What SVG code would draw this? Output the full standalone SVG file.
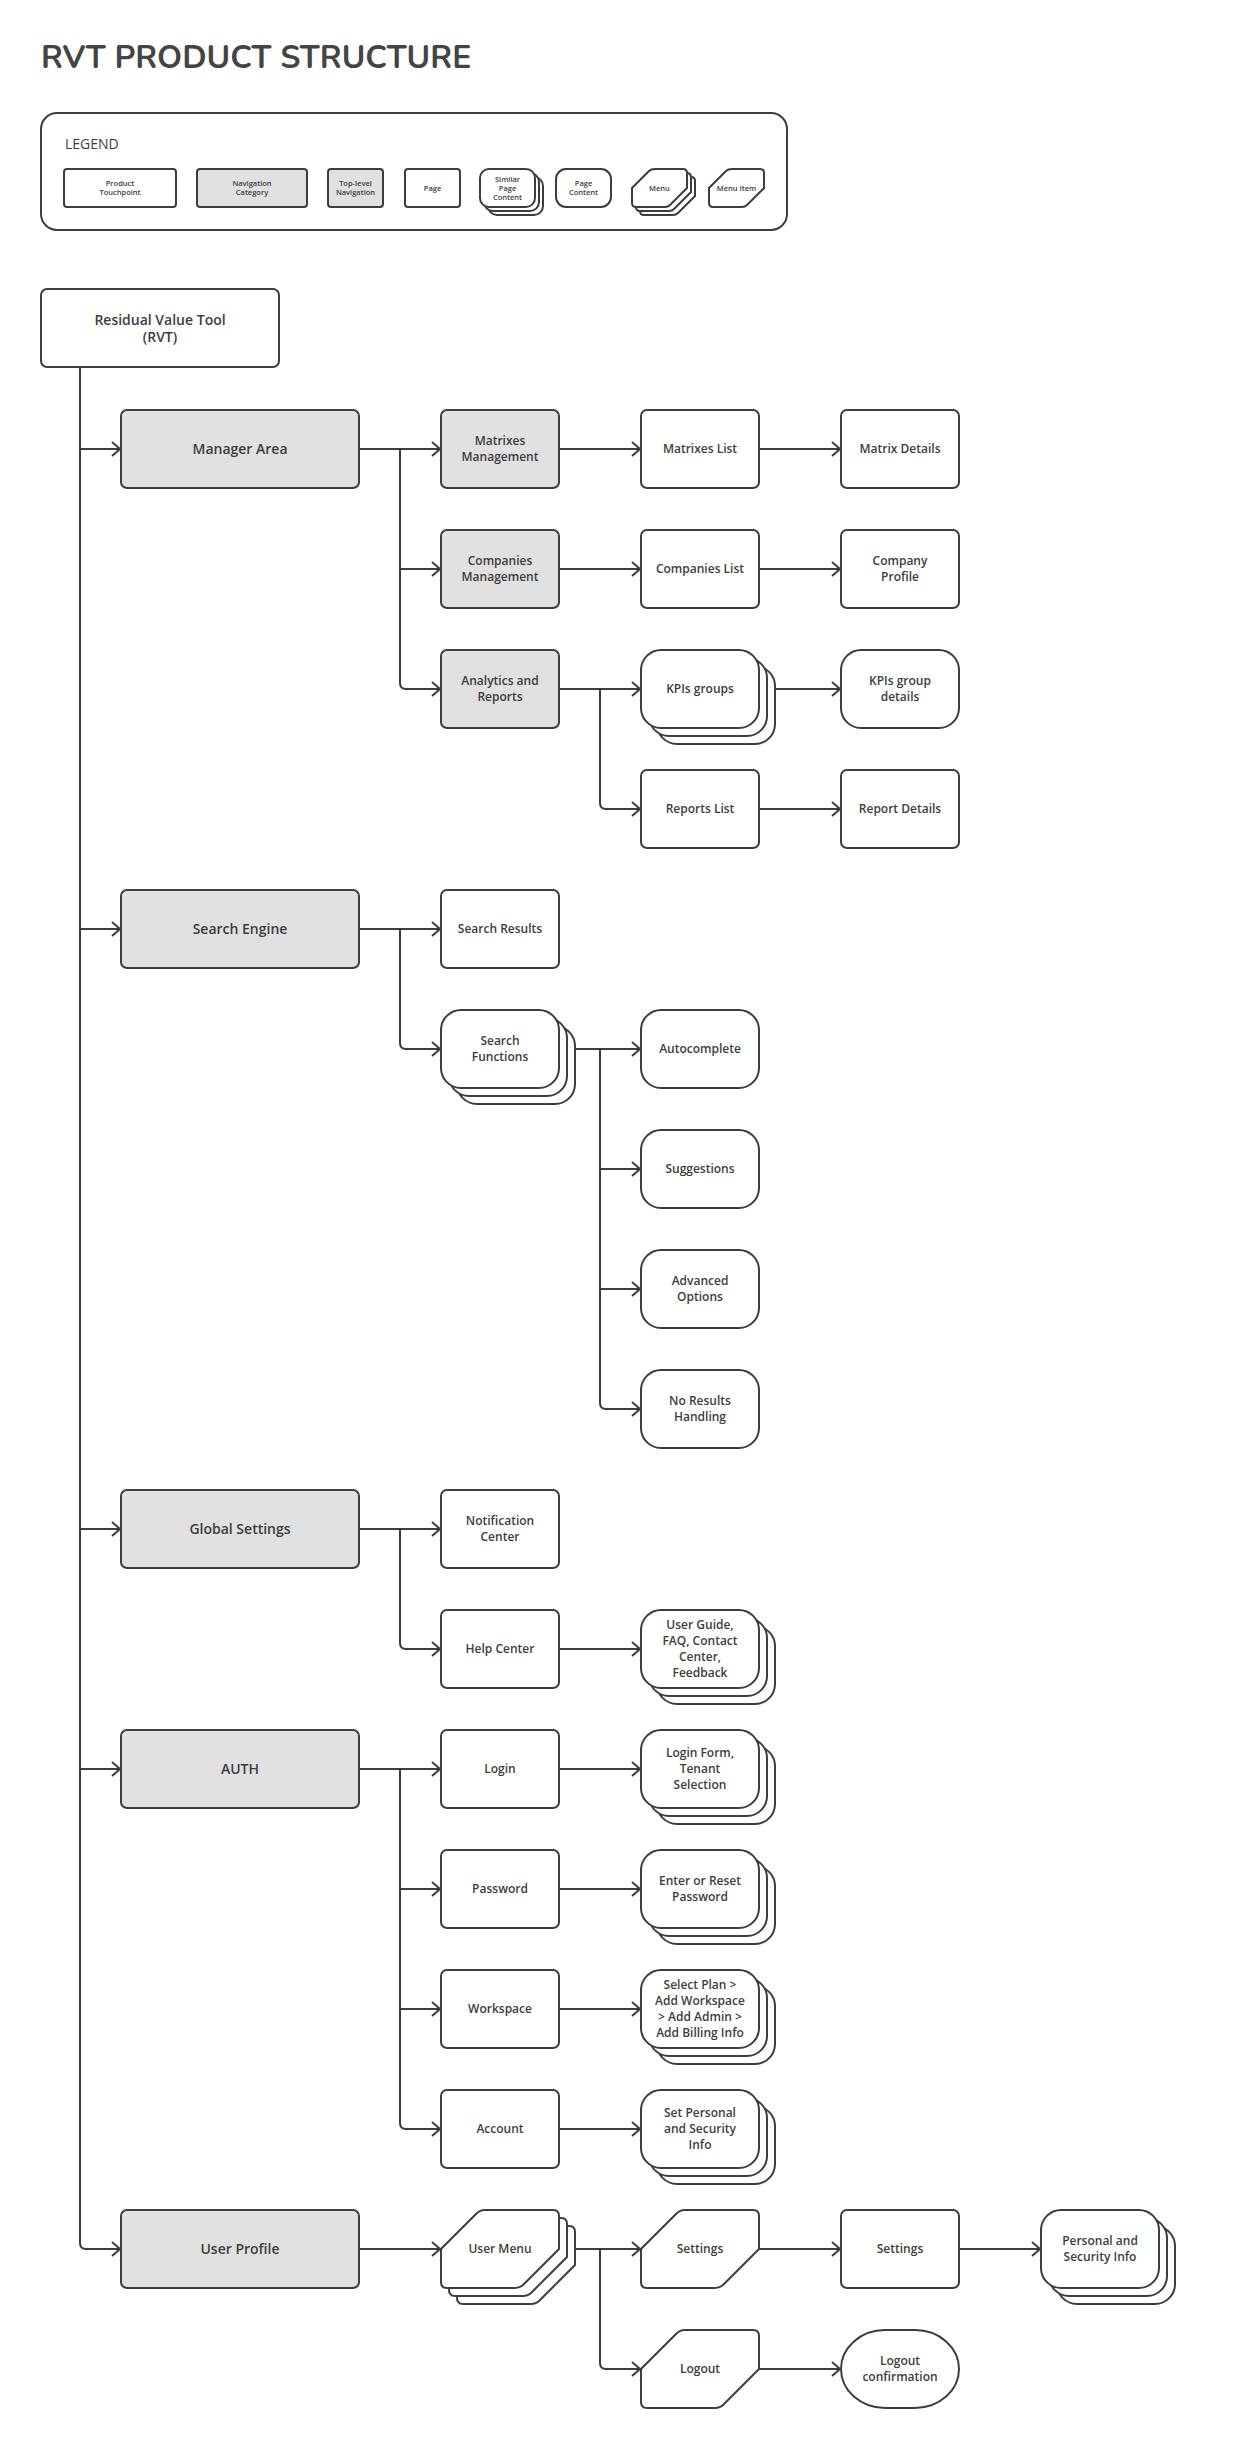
<svg xmlns="http://www.w3.org/2000/svg" xmlns:xlink="http://www.w3.org/1999/xlink" width="1240" height="2457" viewBox="0 0 1240 2457">
<style>
.b{fill:#fff;stroke:#3d3d3d;stroke-width:2}
.g{fill:#e0e0e0;stroke:#3d3d3d;stroke-width:2}
.t{font-family:"Open Sans","Noto Sans","Liberation Sans",sans-serif;font-size:12px;font-weight:600;fill:#3d3d3d;text-anchor:middle}
.t14{font-size:14px}
.tl{font-family:"Open Sans","Noto Sans","Liberation Sans",sans-serif;font-size:7.5px;font-weight:600;fill:#3d3d3d;text-anchor:middle}
.c{fill:none;stroke:#3d3d3d;stroke-width:2}
</style>
<defs>
<marker id="a" markerUnits="userSpaceOnUse" markerWidth="20" markerHeight="20" refX="10" refY="10" orient="auto" viewBox="0 0 20 20"><path d="M2,3 L10,10 L2,17" fill="none" stroke="#3d3d3d" stroke-width="2"/></marker>
<path id="hex" d="M44,0 H112 Q118,0 118,6 V39 L82.5,74.5 Q79,78 74,78 H6 Q0,78 0,72 V39 L35.5,3.5 Q39,0 44,0 Z"/>
<path id="hexs" d="M23,0 H51 Q55,0 55,4 V19 L38,36 Q36,38 33,38 H4 Q0,38 0,34 V19 L17,2 Q19,0 23,0 Z"/>
</defs>
<rect width="1240" height="2457" fill="#fff"/>
<text x="41" y="68" style="font-family:'Nunito','Noto Sans','Liberation Sans',sans-serif;font-size:32px;font-weight:700;fill:#444">RVT PRODUCT STRUCTURE</text>

<g id="legend">
<rect x="41" y="113" width="746" height="117" rx="16" class="b"/>
<text x="65" y="149" style="font-family:'Open Sans','Noto Sans','Liberation Sans',sans-serif;font-size:14px;font-weight:500;fill:#3d3d3d">LEGEND</text>
<rect x="64" y="169" width="112" height="38" rx="3" class="b"/>
<text class="tl"><tspan x="120" y="186">Product</tspan><tspan x="120" y="195">Touchpoint</tspan></text>
<rect x="197" y="169" width="110" height="38" rx="3" class="g"/>
<text class="tl"><tspan x="252" y="186">Navigation</tspan><tspan x="252" y="195">Category</tspan></text>
<rect x="328" y="169" width="55" height="38" rx="3" class="g"/>
<text class="tl"><tspan x="355.5" y="186">Top-level</tspan><tspan x="355.5" y="195">Navigation</tspan></text>
<rect x="405" y="169" width="55" height="38" rx="3" class="b"/>
<text class="tl" x="432.5" y="190.5">Page</text>
<rect x="488" y="177" width="55" height="38" rx="9" class="b"/>
<rect x="484" y="173" width="55" height="38" rx="9" class="b"/>
<rect x="480" y="169" width="55" height="38" rx="9" class="b"/>
<text class="tl"><tspan x="507.5" y="181.5">Similar</tspan><tspan x="507.5" y="190.5">Page</tspan><tspan x="507.5" y="199.5">Content</tspan></text>
<rect x="556" y="169" width="55" height="38" rx="10" class="b"/>
<text class="tl"><tspan x="583.5" y="186">Page</tspan><tspan x="583.5" y="195">Content</tspan></text>
<use xlink:href="#hexs" x="640" y="177" class="b"/>
<use xlink:href="#hexs" x="636" y="173" class="b"/>
<use xlink:href="#hexs" x="632" y="169" class="b"/>
<text class="tl" x="659.5" y="190.5">Menu</text>
<use xlink:href="#hexs" x="709" y="169" class="b"/>
<text class="tl" x="736.5" y="190.5">Menu Item</text>
</g>

<g id="connectors">
<path class="c" marker-end="url(#a)" d="M80,367 V2243 Q80,2249 86,2249 H120"/>
<path class="c" marker-end="url(#a)" d="M80,449 H120"/>
<path class="c" marker-end="url(#a)" d="M80,929 H120"/>
<path class="c" marker-end="url(#a)" d="M80,1529 H120"/>
<path class="c" marker-end="url(#a)" d="M80,1769 H120"/>

<path class="c" marker-end="url(#a)" d="M359,449 H440"/>
<path class="c" marker-end="url(#a)" d="M400,449 V683 Q400,689 406,689 H440"/>
<path class="c" marker-end="url(#a)" d="M400,569 H440"/>
<path class="c" marker-end="url(#a)" d="M559,449 H640"/>
<path class="c" marker-end="url(#a)" d="M559,569 H640"/>
<path class="c" marker-end="url(#a)" d="M559,689 H640"/>
<path class="c" marker-end="url(#a)" d="M600,689 V803 Q600,809 606,809 H640"/>
<path class="c" marker-end="url(#a)" d="M759,449 H840"/>
<path class="c" marker-end="url(#a)" d="M759,569 H840"/>
<path class="c" marker-end="url(#a)" d="M775,689 H840"/>
<path class="c" marker-end="url(#a)" d="M759,809 H840"/>

<path class="c" marker-end="url(#a)" d="M359,929 H440"/>
<path class="c" marker-end="url(#a)" d="M400,929 V1043 Q400,1049 406,1049 H440"/>
<path class="c" marker-end="url(#a)" d="M575,1049 H640"/>
<path class="c" marker-end="url(#a)" d="M600,1049 V1403 Q600,1409 606,1409 H640"/>
<path class="c" marker-end="url(#a)" d="M600,1169 H640"/>
<path class="c" marker-end="url(#a)" d="M600,1289 H640"/>

<path class="c" marker-end="url(#a)" d="M359,1529 H440"/>
<path class="c" marker-end="url(#a)" d="M400,1529 V1643 Q400,1649 406,1649 H440"/>
<path class="c" marker-end="url(#a)" d="M559,1649 H640"/>

<path class="c" marker-end="url(#a)" d="M359,1769 H440"/>
<path class="c" marker-end="url(#a)" d="M400,1769 V2123 Q400,2129 406,2129 H440"/>
<path class="c" marker-end="url(#a)" d="M400,1889 H440"/>
<path class="c" marker-end="url(#a)" d="M400,2009 H440"/>
<path class="c" marker-end="url(#a)" d="M559,1769 H640"/>
<path class="c" marker-end="url(#a)" d="M559,1889 H640"/>
<path class="c" marker-end="url(#a)" d="M559,2009 H640"/>
<path class="c" marker-end="url(#a)" d="M559,2129 H640"/>

<path class="c" marker-end="url(#a)" d="M359,2249 H440"/>
<path class="c" marker-end="url(#a)" d="M575,2249 H640"/>
<path class="c" marker-end="url(#a)" d="M600,2249 V2363 Q600,2369 606,2369 H640"/>
<path class="c" marker-end="url(#a)" d="M759,2249 H840"/>
<path class="c" marker-end="url(#a)" d="M959,2249 H1040"/>
<path class="c" marker-end="url(#a)" d="M759,2369 H840"/>
</g>

<g id="root"><rect x="41" y="289" width="238" height="78" rx="6" class="b"/>
<text class="t t14"><tspan x="160" y="324.5">Residual Value Tool</tspan><tspan x="160" y="341.5">(RVT)</tspan></text></g>

<g id="manager-area"><rect x="121" y="410" width="238" height="78" rx="6" class="g"/><text class="t t14" x="240" y="454">Manager Area</text></g>
<g id="matrixes-management"><rect x="441" y="410" width="118" height="78" rx="6" class="g"/><text class="t"><tspan x="500" y="445">Matrixes</tspan><tspan x="500" y="461">Management</tspan></text></g>
<g id="matrixes-list"><rect x="641" y="410" width="118" height="78" rx="6" class="b"/><text class="t" x="700" y="453">Matrixes List</text></g>
<g id="matrix-details"><rect x="841" y="410" width="118" height="78" rx="6" class="b"/><text class="t" x="900" y="453">Matrix Details</text></g>

<g id="companies-management"><rect x="441" y="530" width="118" height="78" rx="6" class="g"/><text class="t"><tspan x="500" y="565">Companies</tspan><tspan x="500" y="581">Management</tspan></text></g>
<g id="companies-list"><rect x="641" y="530" width="118" height="78" rx="6" class="b"/><text class="t" x="700" y="573">Companies List</text></g>
<g id="company-profile"><rect x="841" y="530" width="118" height="78" rx="6" class="b"/><text class="t"><tspan x="900" y="565">Company</tspan><tspan x="900" y="581">Profile</tspan></text></g>

<g id="analytics-reports"><rect x="441" y="650" width="118" height="78" rx="6" class="g"/><text class="t"><tspan x="500" y="685">Analytics and</tspan><tspan x="500" y="701">Reports</tspan></text></g>
<g id="kpis-groups"><rect x="657" y="666" width="118" height="78" rx="20" class="b"/><rect x="649" y="658" width="118" height="78" rx="20" class="b"/><rect x="641" y="650" width="118" height="78" rx="20" class="b"/><text class="t" x="700" y="693">KPIs groups</text></g>
<g id="kpis-group-details"><rect x="841" y="650" width="118" height="78" rx="20" class="b"/><text class="t"><tspan x="900" y="685">KPIs group</tspan><tspan x="900" y="701">details</tspan></text></g>
<g id="reports-list"><rect x="641" y="770" width="118" height="78" rx="6" class="b"/><text class="t" x="700" y="813">Reports List</text></g>
<g id="report-details"><rect x="841" y="770" width="118" height="78" rx="6" class="b"/><text class="t" x="900" y="813">Report Details</text></g>

<g id="search-engine"><rect x="121" y="890" width="238" height="78" rx="6" class="g"/><text class="t t14" x="240" y="934">Search Engine</text></g>
<g id="search-results"><rect x="441" y="890" width="118" height="78" rx="6" class="b"/><text class="t" x="500" y="933">Search Results</text></g>
<g id="search-functions"><rect x="457" y="1026" width="118" height="78" rx="20" class="b"/><rect x="449" y="1018" width="118" height="78" rx="20" class="b"/><rect x="441" y="1010" width="118" height="78" rx="20" class="b"/><text class="t"><tspan x="500" y="1045">Search</tspan><tspan x="500" y="1061">Functions</tspan></text></g>
<g id="autocomplete"><rect x="641" y="1010" width="118" height="78" rx="20" class="b"/><text class="t" x="700" y="1053">Autocomplete</text></g>
<g id="suggestions"><rect x="641" y="1130" width="118" height="78" rx="20" class="b"/><text class="t" x="700" y="1173">Suggestions</text></g>
<g id="advanced-options"><rect x="641" y="1250" width="118" height="78" rx="20" class="b"/><text class="t"><tspan x="700" y="1285">Advanced</tspan><tspan x="700" y="1301">Options</tspan></text></g>
<g id="no-results"><rect x="641" y="1370" width="118" height="78" rx="20" class="b"/><text class="t"><tspan x="700" y="1405">No Results</tspan><tspan x="700" y="1421">Handling</tspan></text></g>

<g id="global-settings"><rect x="121" y="1490" width="238" height="78" rx="6" class="g"/><text class="t t14" x="240" y="1534">Global Settings</text></g>
<g id="notification-center"><rect x="441" y="1490" width="118" height="78" rx="6" class="b"/><text class="t"><tspan x="500" y="1525">Notification</tspan><tspan x="500" y="1541">Center</tspan></text></g>
<g id="help-center"><rect x="441" y="1610" width="118" height="78" rx="6" class="b"/><text class="t" x="500" y="1653">Help Center</text></g>
<g id="help-content"><rect x="657" y="1626" width="118" height="78" rx="20" class="b"/><rect x="649" y="1618" width="118" height="78" rx="20" class="b"/><rect x="641" y="1610" width="118" height="78" rx="20" class="b"/><text class="t"><tspan x="700" y="1629">User Guide,</tspan><tspan x="700" y="1645">FAQ, Contact</tspan><tspan x="700" y="1661">Center,</tspan><tspan x="700" y="1677">Feedback</tspan></text></g>

<g id="auth"><rect x="121" y="1730" width="238" height="78" rx="6" class="g"/><text class="t t14" x="240" y="1774">AUTH</text></g>
<g id="login"><rect x="441" y="1730" width="118" height="78" rx="6" class="b"/><text class="t" x="500" y="1773">Login</text></g>
<g id="login-form"><rect x="657" y="1746" width="118" height="78" rx="20" class="b"/><rect x="649" y="1738" width="118" height="78" rx="20" class="b"/><rect x="641" y="1730" width="118" height="78" rx="20" class="b"/><text class="t"><tspan x="700" y="1757">Login Form,</tspan><tspan x="700" y="1773">Tenant</tspan><tspan x="700" y="1789">Selection</tspan></text></g>
<g id="password"><rect x="441" y="1850" width="118" height="78" rx="6" class="b"/><text class="t" x="500" y="1893">Password</text></g>
<g id="password-content"><rect x="657" y="1866" width="118" height="78" rx="20" class="b"/><rect x="649" y="1858" width="118" height="78" rx="20" class="b"/><rect x="641" y="1850" width="118" height="78" rx="20" class="b"/><text class="t"><tspan x="700" y="1885">Enter or Reset</tspan><tspan x="700" y="1901">Password</tspan></text></g>
<g id="workspace"><rect x="441" y="1970" width="118" height="78" rx="6" class="b"/><text class="t" x="500" y="2013">Workspace</text></g>
<g id="workspace-content"><rect x="657" y="1986" width="118" height="78" rx="20" class="b"/><rect x="649" y="1978" width="118" height="78" rx="20" class="b"/><rect x="641" y="1970" width="118" height="78" rx="20" class="b"/><text class="t"><tspan x="700" y="1989">Select Plan &gt;</tspan><tspan x="700" y="2005">Add Workspace</tspan><tspan x="700" y="2021">&gt; Add Admin &gt;</tspan><tspan x="700" y="2037">Add Billing Info</tspan></text></g>
<g id="account"><rect x="441" y="2090" width="118" height="78" rx="6" class="b"/><text class="t" x="500" y="2133">Account</text></g>
<g id="account-content"><rect x="657" y="2106" width="118" height="78" rx="20" class="b"/><rect x="649" y="2098" width="118" height="78" rx="20" class="b"/><rect x="641" y="2090" width="118" height="78" rx="20" class="b"/><text class="t"><tspan x="700" y="2117">Set Personal</tspan><tspan x="700" y="2133">and Security</tspan><tspan x="700" y="2149">Info</tspan></text></g>

<g id="user-profile"><rect x="121" y="2210" width="238" height="78" rx="6" class="g"/><text class="t t14" x="240" y="2254">User Profile</text></g>
<g id="user-menu"><use xlink:href="#hex" x="457" y="2226" class="b"/><use xlink:href="#hex" x="449" y="2218" class="b"/><use xlink:href="#hex" x="441" y="2210" class="b"/><text class="t" x="500" y="2253">User Menu</text></g>
<g id="settings-item"><use xlink:href="#hex" x="641" y="2210" class="b"/><text class="t" x="700" y="2253">Settings</text></g>
<g id="settings-page"><rect x="841" y="2210" width="118" height="78" rx="6" class="b"/><text class="t" x="900" y="2253">Settings</text></g>
<g id="personal-security"><rect x="1057" y="2226" width="118" height="78" rx="20" class="b"/><rect x="1049" y="2218" width="118" height="78" rx="20" class="b"/><rect x="1041" y="2210" width="118" height="78" rx="20" class="b"/><text class="t"><tspan x="1100" y="2245">Personal and</tspan><tspan x="1100" y="2261">Security Info</tspan></text></g>
<g id="logout"><use xlink:href="#hex" x="641" y="2330" class="b"/><text class="t" x="700" y="2373">Logout</text></g>
<g id="logout-confirmation"><rect x="841" y="2330" width="118" height="78" rx="44" ry="39" class="b"/><text class="t"><tspan x="900" y="2365">Logout</tspan><tspan x="900" y="2381">confirmation</tspan></text></g>
</svg>
